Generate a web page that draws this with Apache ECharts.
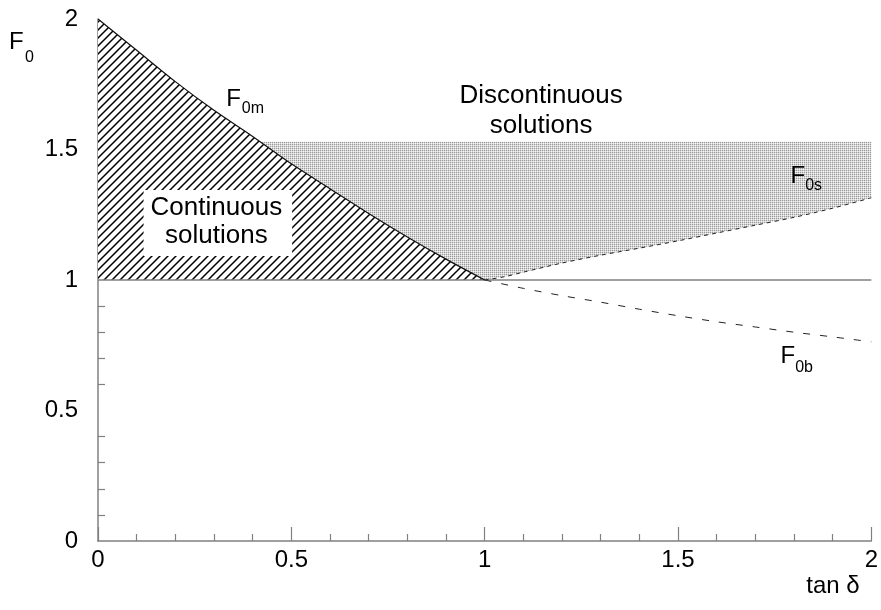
<!DOCTYPE html>
<html>
<head>
<meta charset="utf-8">
<script src="https://cdn.jsdelivr.net/npm/echarts@6/dist/echarts.min.js"></script>
<style>
html,body{margin:0;padding:0;background:#fff;}
#main{width:881px;height:610px;}
</style>
</head>
<body>
<div id="main"></div>
<script>
// ---- data ----
const f0mX = [0, 0.1, 0.2, 0.3, 0.4, 0.5, 0.6, 0.7, 0.8, 0.9, 1.0];
const f0mY = [2.0, 1.88, 1.76, 1.65, 1.55, 1.445, 1.35, 1.255, 1.165, 1.08, 1.0];
const f0sX = [1.0, 1.05, 1.1, 1.2, 1.3, 1.4, 1.5, 1.6, 1.7, 1.8, 1.9, 2.0];
const f0sY = [1.0, 1.012, 1.03, 1.065, 1.095, 1.122, 1.15, 1.18, 1.21, 1.24, 1.275, 1.315];
const f0bX = [1.0, 1.1, 1.2, 1.3, 1.4, 1.5, 1.6, 1.7, 1.8, 1.9, 2.0];
const f0bY = [1.0, 0.968, 0.94, 0.915, 0.888, 0.863, 0.84, 0.82, 0.80, 0.782, 0.763];
const shadeTop = 1.53;
const baseLine = 1.0;
const xTickLabels = ['0', '0.5', '1', '1.5', '2'];
const yTickLabels = ['0', '0.5', '1', '1.5', '2'];

const zip = (xs, ys) => xs.map((x, i) => [x, ys[i]]);
const f0m = zip(f0mX, f0mY);
const f0s = zip(f0sX, f0sY);
const f0b = zip(f0bX, f0bY);

// hatched region: under F0m, above F0 = 1
const hatchPoly = f0m.concat([[f0mX[f0mX.length - 1], baseLine], [0, baseLine]]);

// shaded region: below shadeTop, above F0m (x<1) and F0s (x>1)
let xStart = 0;
for (let i = 0; i < f0m.length - 1; i++) {
  if (f0mY[i] >= shadeTop && f0mY[i + 1] <= shadeTop) {
    xStart = f0mX[i] + (f0mY[i] - shadeTop) / (f0mY[i] - f0mY[i + 1]) * (f0mX[i + 1] - f0mX[i]);
  }
}
const shadePoly = [[xStart, shadeTop], [2, shadeTop]]
  .concat(f0s.slice().reverse())
  .concat(f0m.filter(p => p[1] < shadeTop).reverse())
  .concat([[xStart, shadeTop]]);

// fill patterns
function makeHatch() {
  const c = document.createElement('canvas');
  c.width = 8; c.height = 8;
  const g = c.getContext('2d');
  g.fillStyle = '#fff'; g.fillRect(0, 0, 8, 8);
  g.strokeStyle = '#000'; g.lineWidth = 1.5;
  g.beginPath();
  g.moveTo(-1, 9); g.lineTo(9, -1);
  g.moveTo(-1, 1); g.lineTo(1, -1);
  g.moveTo(7, 9); g.lineTo(9, 7);
  g.stroke();
  return c;
}
function makeDots() {
  const c = document.createElement('canvas');
  c.width = 2; c.height = 2;
  const g = c.getContext('2d');
  g.fillStyle = '#f4f4f4'; g.fillRect(0, 0, 2, 2);
  g.fillStyle = '#d6d6d6'; g.fillRect(1, 0, 1, 1); g.fillRect(0, 1, 1, 1);
  g.fillStyle = '#9a9a9a'; g.fillRect(0, 0, 1, 1);
  return c;
}
const hatchImg = makeHatch();
const dotImg = makeDots();

const FONT = '"Liberation Sans", Arial, Helvetica, sans-serif';
const axisGray = '#808080';

const chart = echarts.init(document.getElementById('main'), null, {renderer: 'canvas'});

function polySeries(poly, fillImg, z) {
  return {
    type: 'custom',
    coordinateSystem: 'cartesian2d',
    silent: true,
    z: z,
    data: [[0, 1]],
    renderItem: function (params, api) {
      const pts = poly.map(p => api.coord(p));
      return {
        type: 'polygon',
        shape: {points: pts},
        style: {fill: {image: fillImg, repeat: 'repeat'}, stroke: null}
      };
    }
  };
}

const option = {
  backgroundColor: '#fff',
  animation: false,
  grid: {left: 98, right: 6, top: 19, bottom: 69, containLabel: false},
  xAxis: {
    type: 'value', min: 0, max: 2, interval: 0.5,
    axisLine: {show: true, lineStyle: {color: axisGray, width: 1.5}},
    axisTick: {show: true, inside: true, length: 14, lineStyle: {color: axisGray, width: 1.2}},
    minorTick: {show: true, splitNumber: 5, length: 7, lineStyle: {color: axisGray, width: 1.2}},
    splitLine: {show: false},
    minorSplitLine: {show: false},
    axisLabel: {
      color: '#000', fontSize: 24, fontFamily: FONT, margin: 7,
      formatter: function (v) { return xTickLabels[Math.round(v / 0.5)]; }
    }
  },
  yAxis: {
    type: 'value', min: 0, max: 2, interval: 0.5,
    axisLine: {show: true, lineStyle: {color: axisGray, width: 1.5}},
    axisTick: {show: false, inside: true},
    minorTick: {show: true, splitNumber: 5, length: 7, lineStyle: {color: axisGray, width: 1.2}},
    splitLine: {show: false},
    minorSplitLine: {show: false},
    axisLabel: {
      color: '#000', fontSize: 24, fontFamily: FONT, margin: 20,
      formatter: function (v) { return yTickLabels[Math.round(v / 0.5)]; }
    }
  },
  series: [
    polySeries(shadePoly, dotImg, 1),
    polySeries(hatchPoly, hatchImg, 2),
    {
      type: 'line', data: [[0, baseLine], [2, baseLine]], showSymbol: false, z: 3,
      lineStyle: {color: axisGray, width: 1.5}, silent: true
    },
    {
      type: 'line', data: f0m, showSymbol: false, smooth: 0.3, z: 4,
      lineStyle: {color: '#111', width: 1.2}, silent: true
    },
    {
      type: 'line', data: f0s, showSymbol: false, smooth: 0.3, z: 4,
      lineStyle: {color: '#222', width: 1, type: [4, 4]}, silent: true
    },
    {
      type: 'line', data: f0b, showSymbol: false, smooth: 0.3, z: 4,
      lineStyle: {color: '#222', width: 1, type: [7, 10]}, silent: true
    }
  ]
};
chart.setOption(option);

// annotation texts placed in data coordinates
function P(x, y) { return chart.convertToPixel({gridIndex: 0}, [x, y]); }
function txt(x, y, text, size, align, extraStyle) {
  const p = P(x, y);
  return {
    type: 'text', x: p[0], y: p[1], z: 10, silent: true,
    style: Object.assign({text: text, fill: '#000', font: size + 'px ' + FONT, align: align || 'left', verticalAlign: 'top', lineHeight: Math.round(size * 1.15)}, extraStyle || {})
  };
}
const labels = [
  // F0m
  txt(0.332, 1.745, 'F', 24), txt(0.372, 1.69, '0m', 16),
  // F0s
  txt(1.791, 1.45, 'F', 24), txt(1.829, 1.395, '0s', 16),
  // F0b
  txt(1.765, 0.762, 'F', 24), txt(1.803, 0.697, '0b', 16),
  // region labels
  txt(0.31, 1.345, 'Continuous\nsolutions', 26, 'center', {lineHeight: 28, backgroundColor: '#fff', padding: [4, 10, 6, 7]}),
  txt(1.146, 1.765, 'Discontinuous\nsolutions', 26, 'center', {lineHeight: 30})
];
const extra = [
  {type: 'text', x: 9, y: 30, z: 10, silent: true, style: {text: 'F', fill: '#000', font: '24px ' + FONT}},
  {type: 'text', x: 25, y: 50, z: 10, silent: true, style: {text: '0', fill: '#000', font: '16px ' + FONT}},
  {type: 'text', x: 833, y: 574, z: 10, silent: true, style: {text: 'tan δ', fill: '#000', font: '24px ' + FONT, align: 'center'}}
];
chart.setOption({graphic: labels.concat(extra)});
</script>
</body>
</html>
